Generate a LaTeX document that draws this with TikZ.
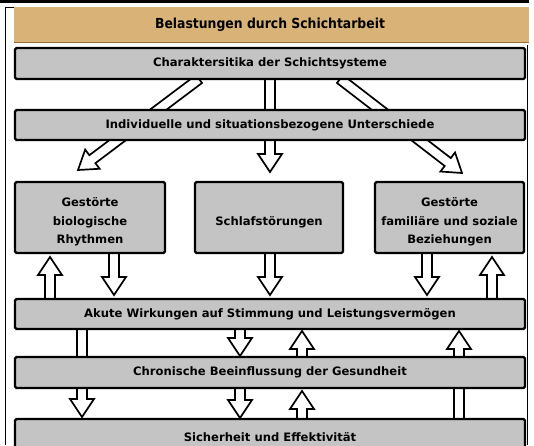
\documentclass[tikz,border=0pt]{standalone}
\usepackage{fontspec}
\setmainfont{DejaVu Sans}
\newfontfamily\condfont{DejaVu Sans Condensed}
\usetikzlibrary{calc}
\definecolor{tanband}{RGB}{216,178,118}
\definecolor{tanedge}{RGB}{150,110,60}
\definecolor{boxgray}{RGB}{196,196,196}
\tikzset{
  harrow/.style={draw=black, fill=white, line width=1.7pt, line join=miter},
  boxsty/.style={draw=black, line width=2.3pt, fill=boxgray, rounded corners=1.5pt,
    align=center, inner sep=0pt,
    font=\bfseries\fontsize{11.6}{18.5}\selectfont},
}
\newcommand\tlines[1]{\raisebox{-4pt}[\height][\depth]{\begin{tabular}{@{}c@{}}#1\end{tabular}}}
\newcommand\blockarrow[2]{%
  \coordinate (bh) at ($(#2)!18pt!(#1)$);
  \draw[harrow] ($(#1)!5pt!90:(#2)$) -- ($(bh)!5pt!90:(#2)$) -- ($(bh)!12pt!90:(#2)$)
    -- (#2) -- ($(bh)!12pt!-90:(#2)$) -- ($(bh)!5pt!-90:(#2)$) -- ($(#1)!5pt!-90:(#2)$) -- cycle;
}
\begin{document}
\begin{tikzpicture}[x=1pt,y=-1pt]
\useasboundingbox (0,0) rectangle (534,445);
% frame
\fill[black] (0,0) rectangle (529,2.7);
\draw[line width=1pt] (14,7) -- (5.5,7) -- (5.5,445);
\draw[line width=1pt] (527.5,45) -- (527.5,445);
% title band
\fill[tanband] (14,7) rectangle (529,43);
\draw[tanedge, line width=1.2pt] (14,42.5) -- (529,42.5);
\node[font=\condfont\bfseries\fontsize{13.8}{16}\selectfont] (title) at (270,25) {Belastungen durch Schichtarbeit};
% arrow end coordinates
\coordinate (s1) at (199,79);  \coordinate (t1) at (78,170);
\coordinate (s2) at (270,79);  \coordinate (t2) at (270,172);
\coordinate (s3) at (340,79);  \coordinate (t3) at (462,173);
\coordinate (s4) at (50,299);  \coordinate (t4) at (50,257);
\coordinate (s5) at (114,253); \coordinate (t5) at (114,295);
\coordinate (s6) at (270,253); \coordinate (t6) at (270,295);
\coordinate (s7) at (427,253); \coordinate (t7) at (427,295);
\coordinate (s8) at (492,299); \coordinate (t8) at (492,257);
\coordinate (s9) at (82,329);  \coordinate (t9) at (82,417);
\coordinate (s10) at (240,329); \coordinate (t10) at (240,356);
\coordinate (s11) at (302,357); \coordinate (t11) at (302,331);
\coordinate (s12) at (459,419); \coordinate (t12) at (459,331);
\coordinate (s13) at (240,388); \coordinate (t13) at (240,418);
\coordinate (s14) at (302,419); \coordinate (t14) at (302,391);
\foreach \i in {1,...,14} {\blockarrow{s\i}{t\i}}
% boxes
\node[boxsty, minimum width=510pt, minimum height=31pt] (charak) at (270,63.5) {Charaktersitika der Schichtsysteme};
\node[boxsty, minimum width=510pt, minimum height=30pt] (indiv) at (270,125) {Individuelle und situationsbezogene Unterschiede};
\node[boxsty, minimum width=150pt, minimum height=71pt] (bio) at (90,217.5) {\tlines{Gestörte\\biologische\\Rhythmen}};
\node[boxsty, minimum width=148pt, minimum height=71pt] (schlaf) at (269,217.5) {\tlines{Schlafstörungen}};
\node[boxsty, minimum width=149pt, minimum height=71pt] (fam) at (449.5,217.5) {\tlines{Gestörte\\familiäre und soziale\\Beziehungen}};
\node[boxsty, minimum width=510pt, minimum height=30pt] (akut) at (270,314) {Akute Wirkungen auf Stimmung und Leistungsvermögen};
\node[boxsty, minimum width=510pt, minimum height=31pt] (chron) at (270,372.5) {Chronische Beeinflussung der Gesundheit};
\node[boxsty, minimum width=510pt, minimum height=36pt] (sicher) at (270,437) {Sicherheit und Effektivität};
\end{tikzpicture}
\end{document}
